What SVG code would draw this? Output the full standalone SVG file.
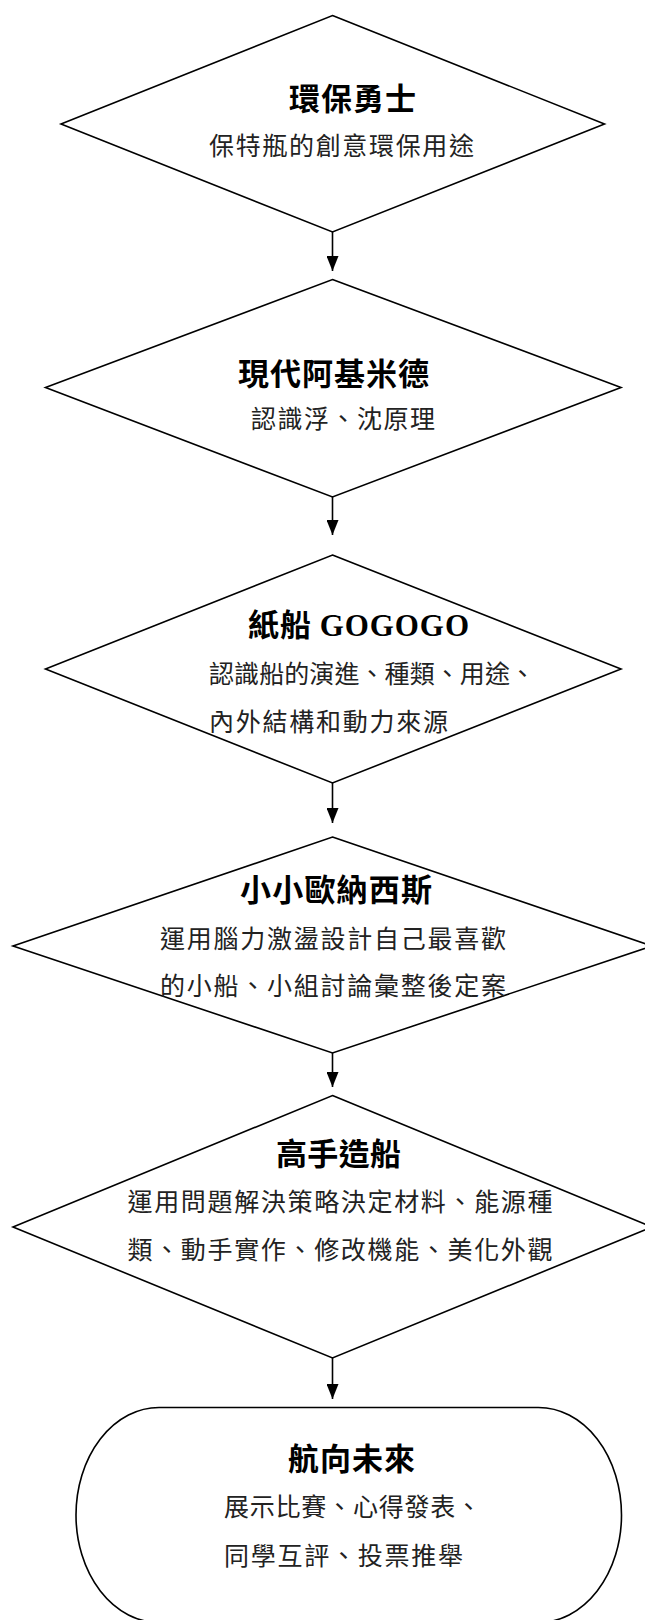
<svg xmlns="http://www.w3.org/2000/svg" width="645" height="1620" viewBox="0 0 645 1620">
<style>
.shape{fill:#fff;stroke:#000;stroke-width:1.6}
.conn{stroke:#000;stroke-width:1.6;fill:none}
.t{font-family:"Noto Sans CJK TC","Noto Sans CJK SC",sans-serif;font-size:31px;font-weight:bold;fill:#000}
.s{font-family:"Noto Sans CJK TC","Noto Sans CJK SC",sans-serif;font-size:25px;fill:#222}
.lat{font-family:"Liberation Serif",serif;font-weight:bold}
</style>
<defs>
<marker id="ah" markerWidth="15" markerHeight="12" refX="15" refY="6" orient="auto" markerUnits="userSpaceOnUse" viewBox="0 0 15 12">
<path d="M0,0 L15,6 L0,12 Z" fill="#000"/>
</marker>
</defs>
<rect width="645" height="1620" fill="#fff"/>
<g id="connectors">
<line class="conn" x1="332.5" y1="232" x2="332.5" y2="271" marker-end="url(#ah)"/>
<line class="conn" x1="332.5" y1="497" x2="332.5" y2="535" marker-end="url(#ah)"/>
<line class="conn" x1="332.5" y1="783" x2="332.5" y2="823" marker-end="url(#ah)"/>
<line class="conn" x1="332.5" y1="1047" x2="332.5" y2="1087" marker-end="url(#ah)"/>
<line class="conn" x1="332.5" y1="1358" x2="332.5" y2="1399" marker-end="url(#ah)"/>
</g>
<g id="n1">
<polygon class="shape" points="332.5,15.5 604.5,124 332.5,232 61,124"/>
<text class="t" x="289" y="109.5" textLength="127" lengthAdjust="spacing">環保勇士</text>
<text class="s" x="209" y="155" textLength="265" lengthAdjust="spacing">保特瓶的創意環保用途</text>
</g>
<g id="n2">
<polygon class="shape" points="332.5,279.5 621,387.5 332.5,497 45.5,387.5"/>
<text class="t" x="238" y="385" textLength="191" lengthAdjust="spacing">現代阿基米德</text>
<text class="s" x="251" y="428" textLength="184" lengthAdjust="spacing">認識浮、沈原理</text>
</g>
<g id="n3">
<polygon class="shape" points="332.5,555 621,669 332.5,783 45.5,669"/>
<text class="t" x="248" y="636" textLength="221" lengthAdjust="spacing">紙船 <tspan class="lat">GOGOGO</tspan></text>
<text class="s" x="209" y="683" textLength="326" lengthAdjust="spacing">認識船的演進、種類、用途、</text>
<text class="s" x="209" y="731" textLength="239" lengthAdjust="spacing">內外結構和動力來源</text>
</g>
<g id="n4">
<polygon class="shape" points="332.5,837 652,946 332.5,1053 13,946"/>
<text class="t" x="240" y="901" textLength="192" lengthAdjust="spacing">小小歐納西斯</text>
<text class="s" x="160" y="948" textLength="346" lengthAdjust="spacing">運用腦力激盪設計自己最喜歡</text>
<text class="s" x="160" y="995" textLength="346" lengthAdjust="spacing">的小船、小組討論彙整後定案</text>
</g>
<g id="n5">
<polygon class="shape" points="332.5,1095.5 652,1227 332.5,1358 13,1227"/>
<text class="t" x="276" y="1165" textLength="125" lengthAdjust="spacing">高手造船</text>
<text class="s" x="127.5" y="1211" textLength="425" lengthAdjust="spacing">運用問題解決策略決定材料、能源種</text>
<text class="s" x="127.5" y="1259" textLength="425" lengthAdjust="spacing">類、動手實作、修改機能、美化外觀</text>
</g>
<g id="n6">
<rect class="shape" x="76" y="1407.5" width="545.5" height="215" rx="83" ry="107.5"/>
<text class="t" x="288" y="1470" textLength="127" lengthAdjust="spacing">航向未來</text>
<text class="s" x="224" y="1516" textLength="257" lengthAdjust="spacing">展示比賽、心得發表、</text>
<text class="s" x="224" y="1565" textLength="239" lengthAdjust="spacing">同學互評、投票推舉</text>
</g>
</svg>
